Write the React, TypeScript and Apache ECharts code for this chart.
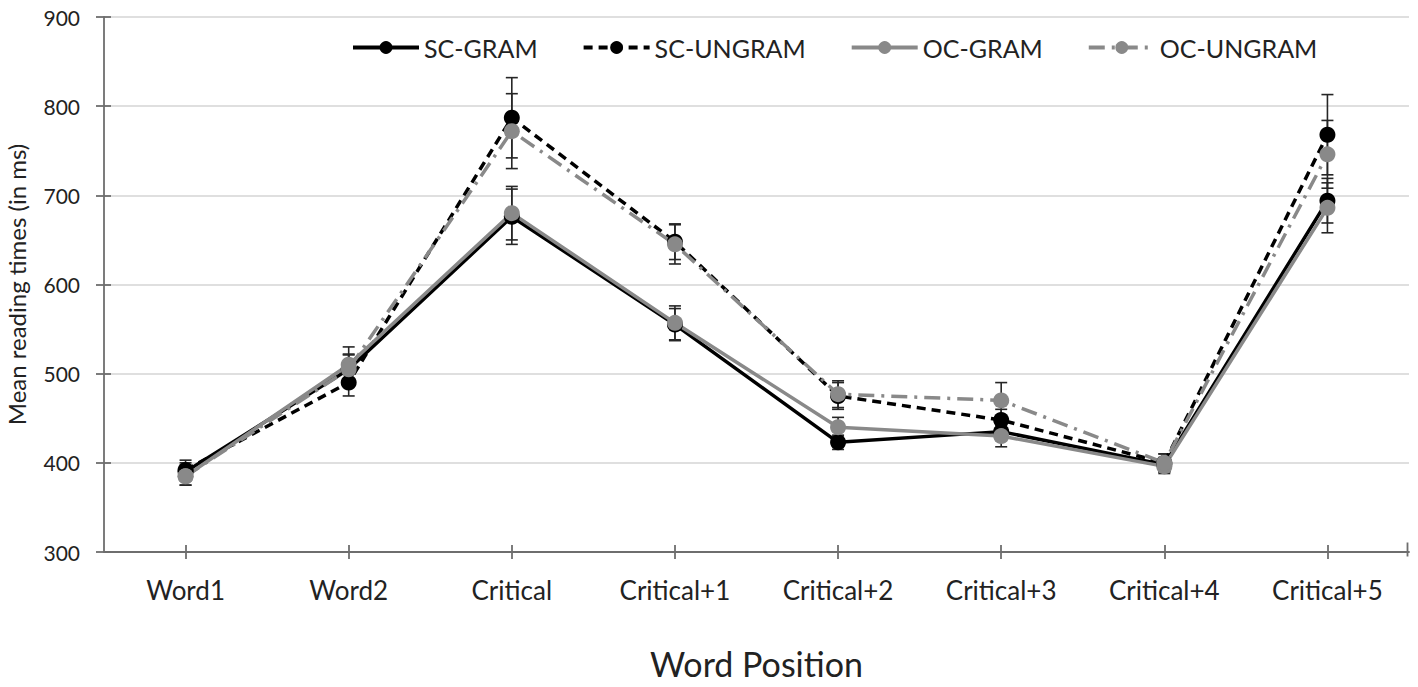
import React, { useEffect, useRef } from "react";
import * as echarts from "echarts";

const categories = ["Word1", "Word2", "Critical", "Critical+1", "Critical+2", "Critical+3", "Critical+4", "Critical+5"];
const yTicks = { min: 300, max: 900, interval: 100 };

const scGram = [390, 505, 676, 555, 423, 435, 398, 694];
const scGramErr = [10, 17, 31, 18, 8, 10, 8, 25];
const scUngram = [392, 490, 787, 648, 475, 448, 400, 768];
const scUngramErr = [11, 15, 45, 20, 15, 12, 10, 45];
const ocGram = [385, 510, 680, 557, 440, 430, 396, 686];
const ocGramErr = [10, 20, 30, 19, 11, 12, 8, 28];
const ocUngram = [385, 505, 772, 645, 477, 470, 400, 746];
const ocUngramErr = [10, 16, 42, 22, 15, 20, 10, 38];

const FONT = "Lato";
const BLACK = "#000000";
const GRAY = "#898989";

function errSeries(name: string, vals: number[], errs: number[]) {
  return {
    name: name + "-err",
    type: "custom",
    z: 1,
    silent: true,
    encode: { x: 0, y: 1 },
    data: vals.map((v, i) => [i, v, errs[i]]),
    renderItem: (params: any, api: any) => {
      const x = api.value(0);
      const v = api.value(1);
      const e = api.value(2);
      const hi = api.coord([x, v + e]);
      const lo = api.coord([x, v - e]);
      const w = 6;
      const st = { stroke: "#262626", lineWidth: 1.6 };
      return {
        type: "group",
        children: [
          { type: "line", shape: { x1: hi[0], y1: hi[1], x2: lo[0], y2: lo[1] }, style: st },
          { type: "line", shape: { x1: hi[0] - w, y1: hi[1], x2: hi[0] + w, y2: hi[1] }, style: st },
          { type: "line", shape: { x1: lo[0] - w, y1: lo[1], x2: lo[0] + w, y2: lo[1] }, style: st },
        ],
      };
    },
  };
}

function lineSeries(name: string, data: number[], color: string, type: any) {
  return {
    name,
    type: "line",
    z: 3,
    data,
    symbol: "circle",
    symbolSize: 16,
    itemStyle: { color },
    lineStyle: { color, width: 3.5, type },
  };
}

export default function App() {
  const ref = useRef<HTMLDivElement>(null);
  useEffect(() => {
    if (!ref.current) return;
    const chart = echarts.init(ref.current, null, { renderer: "svg" });
    const axisColor = "#6e6e6e";
    chart.setOption({
      animation: false,
      backgroundColor: "#ffffff",
      textStyle: { fontFamily: FONT },
      grid: { left: 104, right: 9, top: 17, bottom: 135, outerBoundsMode: "none", containLabel: false },
      legend: {
        left: 346,
        top: 30,
        itemWidth: 66,
        itemHeight: 16,
        itemGap: 44,
        data: ["SC-GRAM", "SC-UNGRAM", "OC-GRAM", "OC-UNGRAM"],
        lineStyle: { width: 4 },
        textStyle: { fontFamily: FONT, fontSize: 25, color: "#222" },
      },
      xAxis: [
        {
          type: "category",
          data: categories,
          boundaryGap: true,
          axisLine: { show: true, lineStyle: { color: axisColor, width: 1.8 } },
          axisTick: { show: true, alignWithLabel: true, length: 7, lineStyle: { color: axisColor, width: 1.8 } },
          axisLabel: { fontFamily: FONT, fontSize: 26, color: "#222", margin: 25 },
          splitLine: { show: false },
          name: "Word Position",
          nameLocation: "middle",
          nameGap: 94,
          nameTextStyle: { fontFamily: FONT, fontSize: 34, color: "#222" },
        },
        {
          type: "category",
          data: categories,
          position: "bottom",
          boundaryGap: true,
          axisLine: { show: false },
          axisTick: { show: true, inside: true, alignWithLabel: true, length: 7, lineStyle: { color: axisColor, width: 1.8 } },
          axisLabel: { show: false },
          splitLine: { show: false },
        },
      ],
      yAxis: [
        {
          type: "value",
          min: yTicks.min,
          max: yTicks.max,
          interval: yTicks.interval,
          axisLine: { show: true, lineStyle: { color: axisColor, width: 1.8 } },
          axisTick: { show: true, length: 8, lineStyle: { color: axisColor, width: 1.8 } },
          axisLabel: { fontFamily: FONT, fontSize: 21, color: "#222", margin: 24 },
          splitLine: { show: true, lineStyle: { color: "#d4d4d4", width: 1.6 } },
          name: "Mean reading times (in ms)",
          nameLocation: "middle",
          nameGap: 76,
          nameTextStyle: { fontFamily: FONT, fontSize: 24, color: "#222" },
        },
        {
          type: "value",
          position: "left",
          min: yTicks.min,
          max: yTicks.max,
          interval: yTicks.interval,
          axisLine: { show: false },
          axisTick: { show: true, inside: true, length: 7, lineStyle: { color: axisColor, width: 1.8 } },
          axisLabel: { show: false },
          splitLine: { show: false },
        },
      ],
      graphic: [
        {
          type: "line",
          right: 8,
          bottom: 128,
          shape: { x1: 0, y1: 0, x2: 0, y2: 14 },
          style: { stroke: axisColor, lineWidth: 1.8 },
        },
      ],
      series: [
        errSeries("SC-GRAM", scGram, scGramErr),
        errSeries("SC-UNGRAM", scUngram, scUngramErr),
        errSeries("OC-GRAM", ocGram, ocGramErr),
        errSeries("OC-UNGRAM", ocUngram, ocUngramErr),
        lineSeries("SC-GRAM", scGram, BLACK, "solid"),
        lineSeries("SC-UNGRAM", scUngram, BLACK, [9, 6]),
        lineSeries("OC-GRAM", ocGram, GRAY, "solid"),
        lineSeries("OC-UNGRAM", ocUngram, GRAY, [16, 7, 3, 7]),
      ],
    });
    return () => chart.dispose();
  }, []);
  return (
    <div
      ref={ref}
      style={{ position: "absolute", left: 0, top: 0, width: 1418, height: 687, background: "#fff" }}
    />
  );
}
